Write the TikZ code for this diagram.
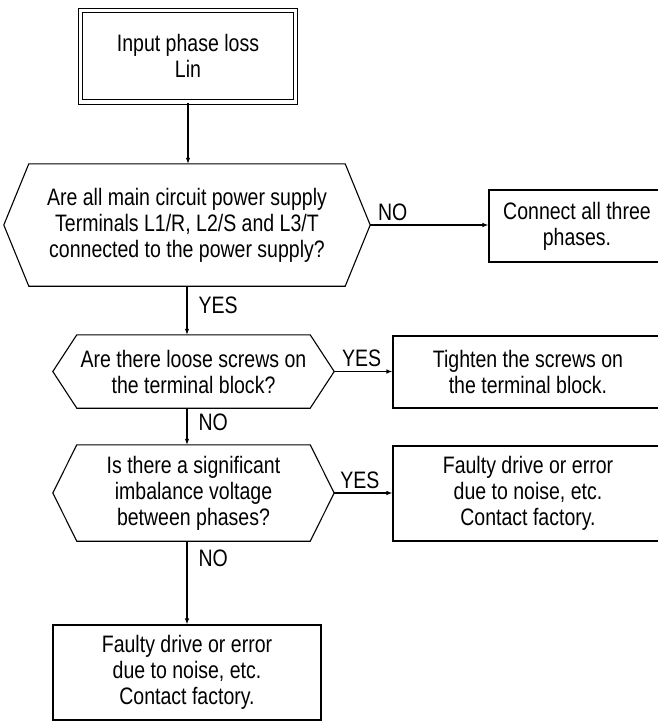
\documentclass[tikz,border=0pt]{standalone}
\usepackage{fontspec}
\setmainfont{Liberation Sans}[FakeStretch=0.82]
\usetikzlibrary{arrows.meta,positioning}

%% flat-topped decision frame round a node, pointed at both ends
\newcommand\hexframe[2]{%
  \draw[line width=1.1pt] (#1.north west) -- (#1.north east)
    -- ([xshift=#2]#1.east) -- (#1.south east) -- (#1.south west)
    -- ([xshift=-#2]#1.west) -- cycle;
  \coordinate (#1-tip) at ([xshift=#2]#1.east);}

\begin{document}
\begin{tikzpicture}[x=1pt,y=-1pt,>={Latex[length=6pt,width=4.5pt]},
  every node/.style={font=\fontsize{23.8}{26}\selectfont},
  box/.style={draw,line width=1.1pt,align=center,inner sep=0pt},
  query/.style={align=center,inner sep=0pt},
  flow/.style={->,line width=1.1pt},
  lbl/.style={inner sep=4pt}]

%% page, same size as the scan
\useasboundingbox (0,0) rectangle (657,721);

%% ---------------- start ----------------
\node[box,double,double distance=3.6pt,minimum width=215pt,minimum height=91.5pt]
  (start) at (188,56.25) {Input phase loss\\Lin};

%% ---------------- questions ----------------
\node[query,minimum width=316pt,minimum height=122pt] (qterm) at (187,225)
  {Are all main circuit power supply\\Terminals L1/R, L2/S and L3/T\\connected to the power supply?};
\hexframe{qterm}{25pt}
\node[query,minimum width=233pt,minimum height=73pt] (qscrew) at (193.5,371.5)
  {Are there loose screws on\\the terminal block?};
\hexframe{qscrew}{24pt}
\node[query,minimum width=233pt,minimum height=96pt] (qvolt) at (193.5,493)
  {Is there a significant\\imbalance voltage\\between phases?};
\hexframe{qvolt}{24pt}

%% ---------------- actions ----------------
\node[box,minimum width=176pt,minimum height=72pt] (connect) at (577,226)
  {Connect all three\\phases.};
\node[box,minimum width=270pt,minimum height=72pt] (tighten) at (528,372)
  {Tighten the screws on\\the terminal block.};
\node[box,minimum width=270pt,minimum height=95pt] (faultr) at (528,493.5)
  {Faulty drive or error\\due to noise, etc.\\Contact factory.};
\node[box,minimum width=268pt,minimum height=95pt] (faultb) at (187,672.5)
  {Faulty drive or error\\due to noise, etc.\\Contact factory.};

%% ---------------- connectors ----------------
\draw[flow] (start) -- (start |- qterm.north);
\draw[flow] (qterm-tip) -- node[lbl,above,pos=0.19] {NO} (qterm-tip -| connect.west);
\draw[flow] (qterm.south) -- node[lbl,right=7pt,pos=0.39] {YES} (qterm.south |- qscrew.north);
\draw[flow] (qscrew-tip) -- node[lbl,above,pos=0.47] {YES} (qscrew-tip -| tighten.west);
\draw[flow] (qscrew.south -| faultb.north) -- node[lbl,right=7pt,pos=0.38] {NO}
  (qvolt.north -| faultb.north);
\draw[flow] (qvolt-tip) -- node[lbl,above,pos=0.44] {YES} (qvolt-tip -| faultr.west);
\draw[flow] (qvolt.south -| faultb.north) -- node[lbl,right=7pt,pos=0.2] {NO} (faultb.north);

\end{tikzpicture}
\end{document}
